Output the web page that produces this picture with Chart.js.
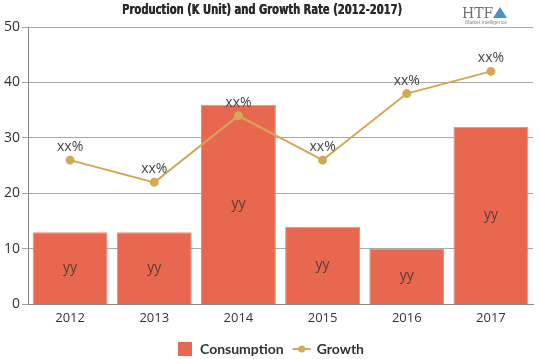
<!DOCTYPE html>
<html>
<head>
  <meta name="viewport" content="width=device-width, initial-scale=1.0">
  <title>Production and Growth Rate</title>
  <script src="https://cdn.jsdelivr.net/npm/chart.js"></script>
  <style>
    body { margin: 0; background: #fff; }
    #wrap { width: 539px; height: 359px; }
  </style>
</head>
<body>
  <div id="wrap"><canvas id="chartCanvas" width="539" height="359"></canvas></div>
  <script>
    const years = ['2012', '2013', '2014', '2015', '2016', '2017'];
    const consumption = [13, 13, 36, 14, 10, 32];
    const growth = [26, 22, 34, 26, 38, 42];
    const barLabel = 'yy';
    const pointLabel = 'xx%';
    const titleText = 'Production (K Unit) and Growth Rate (2012-2017)';

    const barColor = '#E8674F';
    const lineColor = '#D5A856';

    // legend markers drawn once on small canvases
    const rectMarker = document.createElement('canvas');
    rectMarker.width = 14; rectMarker.height = 14;
    rectMarker.getContext('2d').fillStyle = barColor;
    rectMarker.getContext('2d').fillRect(0, 0, 14, 14);

    const lineMarker = document.createElement('canvas');
    lineMarker.width = 20; lineMarker.height = 12;
    (function () {
      const c = lineMarker.getContext('2d');
      c.strokeStyle = lineColor; c.lineWidth = 2;
      c.beginPath(); c.moveTo(1, 6); c.lineTo(19, 6); c.stroke();
      c.fillStyle = lineColor;
      c.beginPath(); c.arc(10, 6, 3.5, 0, Math.PI * 2); c.fill();
    })();

    const labelPlugin = {
      id: 'valueLabels',
      afterDatasetsDraw(chart) {
        const ctx = chart.ctx;
        ctx.save();
        ctx.font = '14px "Open Sans", sans-serif';
        ctx.textAlign = 'center';
        ctx.textBaseline = 'middle';
        chart.data.datasets.forEach((ds, i) => {
          const meta = chart.getDatasetMeta(i);
          meta.data.forEach(el => {
            if (ds.type === 'bar') {
              ctx.fillStyle = '#5a3c36';
              ctx.fillText(barLabel, el.x, (el.y + el.base) / 2);
            } else {
              ctx.fillStyle = '#464646';
              ctx.fillText(pointLabel, el.x, el.y - 13);
            }
          });
        });
        ctx.restore();
      }
    };

    // heavy condensed title + logo, drawn by hand
    const headerPlugin = {
      id: 'header',
      afterDraw(chart) {
        const ctx = chart.ctx;
        ctx.save();
        ctx.font = 'bold 14px "DejaVu Sans", sans-serif';
        ctx.fillStyle = '#2a2a2a';
        ctx.textBaseline = 'middle';
        const w = ctx.measureText(titleText).width;
        const sx = 280 / w;
        ctx.translate(122, 10);
        ctx.scale(sx, 1);
        ctx.fillText(titleText, 0, 0);
        ctx.fillText(titleText, 0.5, 0);
        ctx.restore();

        ctx.save();
        ctx.fillStyle = '#707070';
        ctx.font = '14px "DejaVu Serif", serif';
        ctx.textBaseline = 'alphabetic';
        ctx.fillText('HTF', 462, 18);
        ctx.fillStyle = '#4a90c8';
        ctx.beginPath();
        ctx.moveTo(500, 7); ctx.lineTo(493, 18); ctx.lineTo(507, 18); ctx.closePath();
        ctx.fill();
        ctx.fillStyle = '#888';
        ctx.font = '5px "Liberation Sans", sans-serif';
        ctx.fillText('Market Intelligence', 465, 24);
        ctx.restore();
      }
    };

    new Chart(document.getElementById('chartCanvas'), {
      data: {
        labels: years,
        datasets: [
          {
            type: 'bar',
            label: 'Consumption',
            data: consumption,
            backgroundColor: barColor,
            borderColor: '#EE8A76',
            borderWidth: 1,
            barPercentage: 0.89,
            categoryPercentage: 1.0,
            order: 1
          },
          {
            type: 'line',
            label: 'Growth',
            data: growth,
            borderColor: lineColor,
            backgroundColor: lineColor,
            borderWidth: 2,
            pointRadius: 3.5,
            tension: 0,
            order: 0
          }
        ]
      },
      options: {
        responsive: false,
        animation: false,
        layout: { padding: { left: 2, right: 0, top: 27, bottom: -7 } },
        plugins: {
          legend: {
            position: 'bottom',
            labels: {
              usePointStyle: true,
              pointStyleWidth: 16,
              font: { family: 'Lato, sans-serif', weight: 'bold', size: 14 },
              color: '#333',
              boxHeight: 14,
              padding: 10,
              sort: (a, b) => a.datasetIndex - b.datasetIndex,
              generateLabels(chart) {
                const items = Chart.defaults.plugins.legend.labels.generateLabels(chart);
                items.forEach(it => {
                  it.pointStyle = it.datasetIndex === 0 ? rectMarker : lineMarker;
                  it.lineWidth = 0;
                });
                return items;
              }
            }
          },
          tooltip: { enabled: false }
        },
        scales: {
          x: {
            grid: { display: false, drawTicks: false },
            border: { color: '#888' },
            ticks: { color: '#333', padding: 6, font: { family: '"Open Sans", sans-serif', size: 13 } }
          },
          y: {
            min: 0,
            max: 50,
            ticks: { stepSize: 10, color: '#333', font: { family: '"Open Sans", sans-serif', size: 14 }, padding: 2 },
            grid: { color: '#a8a8a8', tickLength: 6 },
            border: { color: '#888' }
          }
        }
      },
      plugins: [labelPlugin, headerPlugin]
    });
  </script>
</body>
</html>
